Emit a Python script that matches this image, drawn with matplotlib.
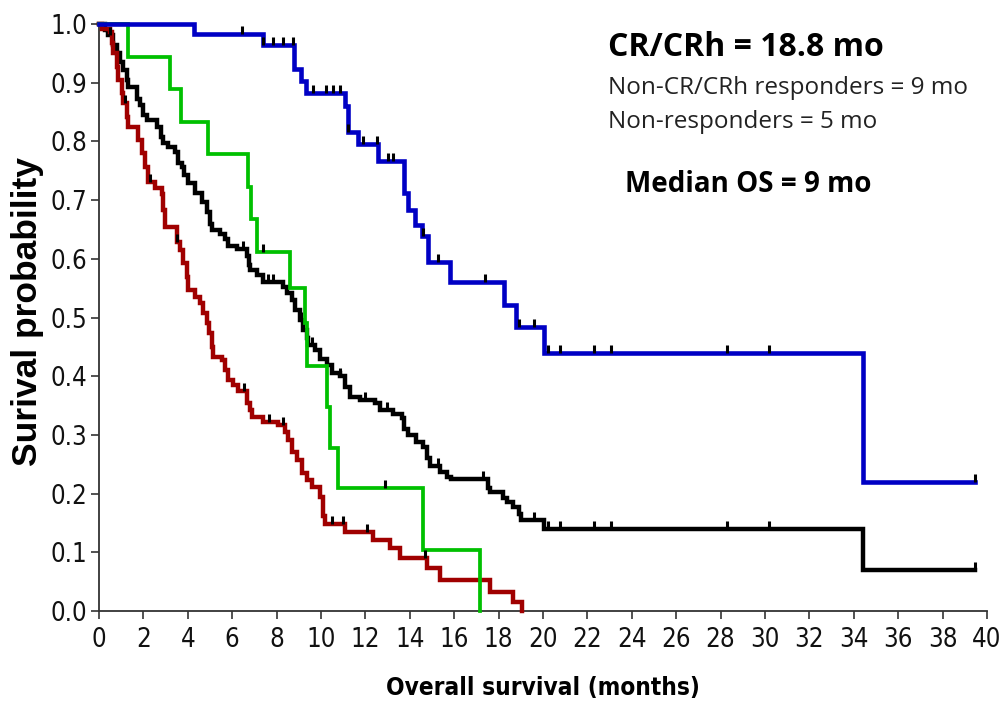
import numpy as np
import matplotlib
matplotlib.use("Agg")
import matplotlib.pyplot as plt
from matplotlib.path import Path
from matplotlib import font_manager as fm

# ---- data: Kaplan-Meier steps (time in months, survival after the event) ----
cr_times = [4.3, 7.37, 8.78, 9.08, 9.32, 11.08, 11.23, 11.68, 12.58, 13.74,
            13.93, 14.23, 14.53, 14.83, 15.81, 18.25, 18.8, 20.05, 34.4]
cr_surv = [0.983, 0.964, 0.923, 0.9035, 0.8825, 0.861, 0.816, 0.796, 0.767, 0.712,
           0.683, 0.657, 0.638, 0.595, 0.561, 0.522, 0.483, 0.44, 0.22]
cr_end = 39.45
cr_cens = [6.43, 7.37, 7.85, 8.3, 8.72, 9.62, 10.22, 10.53, 10.86, 11.23, 11.9,
           12.5, 13.03, 13.26, 14.6, 15.29, 17.4, 18.94, 19.6, 20.24, 20.76,
           22.3, 23.06, 28.27, 30.2, 39.45]

all_times = [0.25, 0.42, 0.64, 0.8, 0.95, 1.1, 1.25, 1.32, 1.7, 1.85, 2.0, 2.15,
             2.6, 2.8, 2.9, 3.12, 3.42, 3.57, 3.72, 3.85, 4.02, 4.32, 4.63, 4.85,
             5.0, 5.08, 5.45, 5.68, 5.83, 6.2, 6.65, 6.75, 6.8, 7.1, 7.4, 8.3,
             8.45, 8.68, 8.83, 9.05, 9.2, 9.35, 9.43, 9.73, 9.95, 10.26, 10.48,
             10.86, 11.08, 11.3, 11.76, 12.43, 12.66, 13.26, 13.63, 13.75, 13.91,
             14.26, 14.6, 14.77, 14.9, 15.38, 15.66, 15.85, 17.5, 17.6, 18.2,
             18.4, 18.64, 18.9, 19.0, 20.05, 34.4]
all_surv = [0.99, 0.981, 0.964, 0.95, 0.936, 0.922, 0.905, 0.893, 0.873, 0.862,
            0.845, 0.836, 0.824, 0.808, 0.798, 0.791, 0.782, 0.763, 0.757, 0.742,
            0.729, 0.712, 0.697, 0.68, 0.66, 0.649, 0.642, 0.633, 0.622, 0.617,
            0.604, 0.59, 0.581, 0.572, 0.561, 0.552, 0.541, 0.53, 0.513, 0.496,
            0.478, 0.465, 0.453, 0.445, 0.43, 0.419, 0.405, 0.40, 0.382, 0.365,
            0.36, 0.355, 0.342, 0.336, 0.328, 0.31, 0.299, 0.288, 0.279, 0.26,
            0.247, 0.237, 0.229, 0.225, 0.21, 0.203, 0.192, 0.185, 0.178, 0.166,
            0.155, 0.14, 0.07]
all_end = 39.45
all_cens = [0.5, 2.6, 6.5, 7.4, 7.63, 7.85, 9.1, 9.6, 10.86, 12.0, 12.96,
            15.28, 17.3, 19.6, 20.24, 20.76, 22.3, 23.06, 28.27, 30.2, 39.45]

resp_times = [1.32, 3.2, 3.68, 4.92, 6.73, 6.83, 7.1, 8.6, 9.28, 9.38, 10.26,
              10.4, 10.75, 14.6, 17.16]
resp_surv = [0.944, 0.889, 0.833, 0.778, 0.722, 0.667, 0.611, 0.55, 0.49, 0.417,
             0.348, 0.278, 0.209, 0.104, 0.0]
resp_end = 17.16
resp_cens = [7.37, 12.88]

nonresp_times = [0.12, 0.5, 0.57, 0.64, 0.8, 0.87, 1.02, 1.1, 1.25, 1.32, 1.77,
                 1.92, 2.07, 2.22, 2.52, 2.82, 2.9, 2.97, 3.5, 3.65, 3.8, 3.95,
                 4.02, 4.32, 4.55, 4.7, 4.85, 4.97, 5.08, 5.15, 5.53, 5.68, 5.83,
                 6.05, 6.27, 6.65, 6.8, 6.88, 7.4, 8.08, 8.38, 8.53, 8.68, 8.9,
                 9.13, 9.35, 9.58, 9.95, 10.1, 10.18, 11.08, 12.36, 13.1, 13.56,
                 14.76, 15.36, 17.6, 18.66, 19.04]
nonresp_surv = [0.992, 0.987, 0.967, 0.95, 0.927, 0.905, 0.882, 0.865, 0.842,
                0.825, 0.802, 0.78, 0.757, 0.731, 0.72, 0.71, 0.683, 0.655,
                0.629, 0.615, 0.592, 0.569, 0.547, 0.535, 0.524, 0.507, 0.49,
                0.473, 0.45, 0.433, 0.428, 0.411, 0.394, 0.385, 0.374, 0.354,
                0.342, 0.331, 0.322, 0.317, 0.305, 0.291, 0.271, 0.257, 0.235,
                0.223, 0.212, 0.195, 0.161, 0.149, 0.135, 0.121, 0.107, 0.09,
                0.073, 0.053, 0.033, 0.016, 0.0]
nonresp_end = 19.04
nonresp_cens = [1.17, 2.3, 3.5, 6.55, 7.65, 8.3, 10.48, 11.0, 12.05, 14.68]

x_ticks = list(range(0, 41, 2))
y_ticks = [round(0.1 * i, 1) for i in range(11)]


# ---- fonts: prefer a narrow sans for the axis text ----
def pick_narrow(weight):
    prefs = ["Liberation Sans Narrow", "Arial Narrow", "Noto Sans", "Roboto",
             "Open Sans", "DejaVu Sans", "Lato", "Inter"]
    entries = fm.fontManager.ttflist
    for name in prefs:
        for f in entries:
            if f.name != name or f.style != "normal":
                continue
            w = f.weight if isinstance(f.weight, int) else (700 if "bold" in str(f.weight) else 400)
            narrowish = ("Narrow" in f.name) or f.stretch in ("condensed", "semi-condensed")
            if narrowish and abs(w - weight) < 50:
                return fm.FontProperties(fname=f.fname)
    return fm.FontProperties(family="Liberation Sans",
                             weight="bold" if weight >= 700 else "normal")


tick_font = pick_narrow(400)
xlab_font = pick_narrow(700)

W, H = 1005, 712
fig = plt.figure(figsize=(W / 100, H / 100), dpi=100)
ax = fig.add_axes([99 / W, 1 - 611 / H, (987 - 99) / W, (611 - 24) / H])


def km_arrays(times, surv, end):
    t = np.concatenate([[0.0], times, [end]])
    s = np.concatenate([[1.0], surv, [surv[-1]]])
    return t, s


def value_at(times, surv, x):
    t = np.asarray(times)
    s = np.concatenate([[1.0], surv])
    idx = np.searchsorted(t, np.asarray(x), side="right")
    return s[idx]


tick_marker = Path([(0, 0), (0, 1)])

series = [
    (all_times, all_surv, all_end, all_cens, "black", 3.2),
    (nonresp_times, nonresp_surv, nonresp_end, nonresp_cens, "#A00000", 3.2),
    (resp_times, resp_surv, resp_end, resp_cens, "#00C000", 2.7),
    (cr_times, cr_surv, cr_end, cr_cens, "#0000C4", 3.3),
]

for times, surv, end, cens, color, lw in series:
    t, s = km_arrays(times, surv, end)
    ax.step(t, s, where="post", color=color, lw=lw, solid_joinstyle="miter",
            clip_on=False, zorder=3)
for times, surv, end, cens, color, lw in series:
    ax.plot(cens, value_at(times, surv, cens), linestyle="none",
            marker=tick_marker, markersize=12, markeredgewidth=2.2,
            color="black", clip_on=False, zorder=4)

ax.set_xlim(0, 40)
ax.set_ylim(0, 1)
ax.set_xticks(x_ticks)
ax.set_yticks(y_ticks)
ax.set_xticklabels([str(v) for v in x_ticks])
ax.set_yticklabels([f"{v:.1f}" for v in y_ticks])
for side in ("top", "right"):
    ax.spines[side].set_visible(False)
for side in ("left", "bottom"):
    ax.spines[side].set_color("#333333")
    ax.spines[side].set_linewidth(1.3)
ax.tick_params(axis="both", direction="out", length=5.5, width=1.2, color="#333333")
ax.tick_params(axis="x", pad=6)
ax.tick_params(axis="y", pad=3)
for lab in ax.get_xticklabels() + ax.get_yticklabels():
    lab.set_fontproperties(tick_font)
    lab.set_fontsize(18.5)
    lab.set_color("#111111")

ax.set_xlabel("Overall survival (months)", fontproperties=xlab_font)
ax.xaxis.label.set_fontsize(17.5)
ax.xaxis.set_label_coords(0.5, -0.11)
ax.set_ylabel("Surival probability", fontfamily="Liberation Sans", fontsize=25.5,
              fontweight="bold")
ax.yaxis.set_label_coords(-0.062, 0.51)

fig.text(608 / W, 1 - 48 / H, "CR/CRh = 18.8 mo", fontfamily="Open Sans",
         fontsize=23, fontweight="bold", va="center", ha="left")
fig.text(608 / W, 1 - 88 / H, "Non-CR/CRh responders = 9 mo", fontfamily="Open Sans",
         fontsize=17.5, va="center", ha="left", color="#222222")
fig.text(608 / W, 1 - 122 / H, "Non-responders = 5 mo", fontfamily="Open Sans",
         fontsize=17.5, va="center", ha="left", color="#222222")
fig.text(625 / W, 1 - 185 / H, "Median OS = 9 mo", fontfamily="Open Sans",
         fontsize=20, fontweight="bold", va="center", ha="left")

fig.savefig("out.png", dpi=100)
